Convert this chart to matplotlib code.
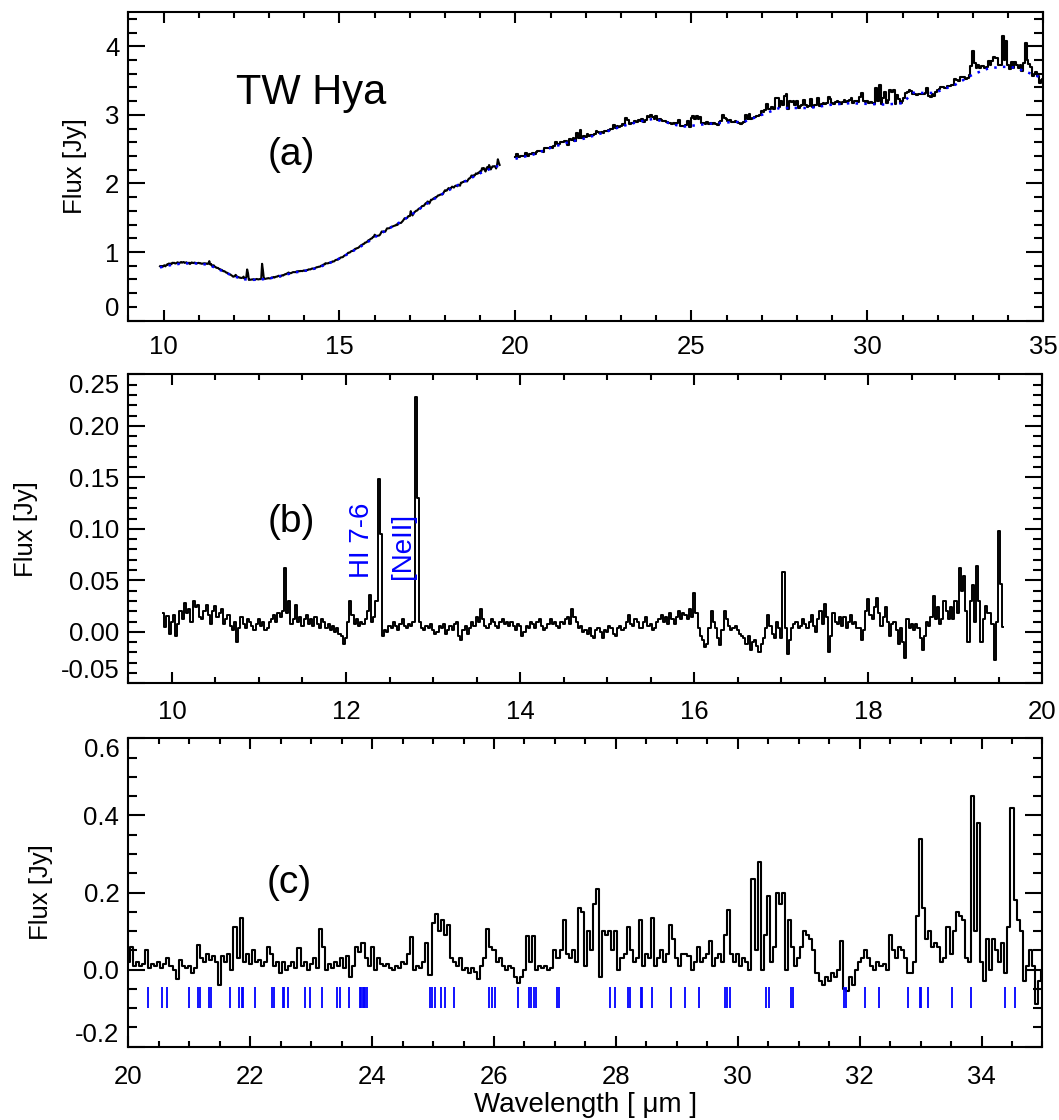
import numpy as np
import matplotlib
matplotlib.use("Agg")
import matplotlib.pyplot as plt
from matplotlib.ticker import MultipleLocator

plt.rcParams["font.family"] = ["Liberation Sans", "DejaVu Sans"]
plt.rcParams["axes.unicode_minus"] = False

# Short-wavelength part: continuum-subtracted flux [Jy], 0.025 um sampling from 9.900 um
resid_sh = [
    0.018, 0.005, 0.015, -0.002, 0.010, 0.016, -0.004, 0.008, 0.020, 0.012,
    0.028, 0.018, 0.022, 0.010, 0.030, 0.024, 0.026, 0.014, 0.012, 0.020,
    0.026, 0.016, 0.008, 0.020, 0.025, 0.014, 0.018, 0.022, 0.008, 0.012,
    0.016, 0.006, 0.002, 0.010, -0.010, 0.004, 0.014, 0.008, 0.004, 0.012,
    # 10.9 um
    0.010, 0.006, 0.002, 0.008, 0.012, 0.006, 0.010, 0.002, 0.004, 0.010,
    0.012, 0.016, 0.010, 0.018, 0.014, 0.020, 0.062, 0.018, 0.030, 0.008,
    0.012, 0.026, 0.010, 0.014, 0.006, 0.012, 0.016, 0.008, 0.012, 0.006,
    0.014, 0.008, 0.004, 0.012, 0.010, 0.004, 0.008, 0.002, 0.006, 0.000,
    # 11.9 um
    0.004, -0.002, -0.004, -0.012, -0.006, 0.010, 0.030, 0.016, 0.008, 0.012,
    0.006, 0.010, 0.008, 0.012, 0.020, 0.036, 0.010, 0.014, 0.030, 0.148,
    0.095, -0.004, 0.002, 0.000, 0.006, 0.004, 0.010, 0.006, 0.002, 0.008,
    0.012, 0.006, 0.004, 0.008, 0.006, 0.010, 0.228, 0.130, 0.010, 0.004,
    # 12.9 um
    0.002, 0.006, 0.004, 0.008, 0.002, -0.002, 0.000, 0.006, 0.004, 0.008,
    -0.002, 0.002, 0.006, 0.002, 0.008, 0.010, -0.004, -0.008, 0.002, 0.006,
    -0.002, 0.004, 0.010, 0.006, 0.014, 0.010, 0.022, 0.012, 0.006, 0.004,
    0.008, 0.012, 0.010, 0.006, 0.004, 0.010, 0.012, 0.008, 0.010, 0.006,
    # 13.9 um
    0.010, 0.006, 0.002, 0.008, 0.006, -0.004, 0.000, 0.006, 0.004, 0.010,
    0.008, 0.004, 0.010, 0.012, 0.006, 0.002, 0.004, 0.008, 0.012, 0.008,
    0.010, 0.006, 0.004, 0.010, 0.008, 0.012, 0.014, 0.008, 0.022, 0.014,
    0.010, 0.004, 0.006, 0.000, 0.002, -0.002, 0.004, -0.004, -0.006, 0.002,
    # 14.9 um
    0.004, 0.000, -0.006, 0.002, 0.000, 0.006, 0.004, -0.002, -0.004, 0.004,
    0.006, 0.002, 0.004, 0.010, 0.016, 0.008, 0.006, 0.012, 0.010, 0.004,
    0.004, 0.010, 0.014, 0.006, 0.008, 0.002, 0.004, 0.010, 0.012, 0.016,
    0.010, 0.014, 0.008, 0.018, 0.012, 0.008, 0.014, 0.020, 0.012, 0.018,
    # 15.9 um
    0.016, 0.012, 0.022, 0.014, 0.038, 0.018, 0.004, -0.004, -0.008, -0.015,
    -0.012, 0.004, 0.020, 0.010, 0.004, -0.006, -0.013, 0.002, 0.020, 0.012,
    0.006, 0.002, 0.004, 0.006, 0.002, -0.002, -0.004, -0.006, -0.012, -0.004,
    -0.018, -0.010, -0.008, -0.014, -0.020, -0.012, -0.006, 0.004, 0.016, 0.006,
    # 16.9 um
    -0.002, -0.006, 0.010, 0.004, -0.006, 0.058, 0.004, -0.022, -0.008, 0.004,
    0.008, 0.010, 0.004, 0.006, 0.012, 0.008, 0.004, 0.010, 0.016, 0.006,
    0.000, 0.012, 0.020, 0.008, 0.027, 0.014, -0.020, -0.004, 0.018, 0.010,
    0.008, 0.014, 0.006, 0.014, 0.004, 0.010, 0.016, 0.008, 0.010, 0.004,
    # 17.9 um
    0.004, -0.008, 0.002, 0.020, 0.032, 0.016, 0.012, 0.024, 0.033, 0.018,
    0.006, 0.014, 0.024, 0.010, -0.004, 0.008, 0.010, 0.002, -0.012, 0.004,
    -0.010, -0.025, 0.012, 0.004, 0.008, 0.002, 0.008, 0.004, -0.006, -0.018,
    -0.004, 0.010, 0.006, 0.014, 0.035, 0.012, 0.024, 0.008, 0.012, 0.030,
    # 18.9 um
    0.020, 0.012, 0.024, 0.012, 0.030, 0.018, 0.062, 0.040, 0.054, 0.020,
    -0.010, 0.030, 0.045, 0.010, 0.064, 0.030, -0.010, 0.012, 0.025, 0.018,
    0.018, 0.008, -0.027, 0.010, 0.098, 0.046, 0.005,
]

# continuum fit on the same grid [Jy]
cont_sh = [
    0.775, 0.778, 0.782, 0.786, 0.789, 0.792, 0.795, 0.798, 0.800, 0.803,
    0.805, 0.808, 0.810, 0.812, 0.814, 0.816, 0.818, 0.820, 0.822, 0.824,
    0.825, 0.827, 0.828, 0.829, 0.830, 0.831, 0.832, 0.833, 0.834, 0.835,
    0.835, 0.835, 0.835, 0.835, 0.835, 0.835, 0.835, 0.835, 0.835, 0.835,
    0.834, 0.834, 0.833, 0.832, 0.831, 0.830, 0.829, 0.828, 0.826, 0.825,
    0.823, 0.821, 0.819, 0.816, 0.813, 0.810, 0.806, 0.802, 0.797, 0.792,
    0.787, 0.782, 0.776, 0.770, 0.764, 0.758, 0.752, 0.746, 0.740, 0.734,
    0.728, 0.722, 0.716, 0.710, 0.704, 0.698, 0.692, 0.686, 0.680, 0.675,
    0.669, 0.664, 0.658, 0.653, 0.648, 0.643, 0.638, 0.634, 0.629, 0.625,
    0.621, 0.618, 0.614, 0.611, 0.608, 0.606, 0.603, 0.602, 0.600, 0.599,
    0.598, 0.597, 0.596, 0.596, 0.595, 0.595, 0.595, 0.595, 0.595, 0.596,
    0.596, 0.597, 0.597, 0.598, 0.599, 0.600, 0.601, 0.603, 0.604, 0.606,
    0.607, 0.609, 0.611, 0.613, 0.615, 0.618, 0.620, 0.623, 0.625, 0.628,
    0.630, 0.633, 0.636, 0.639, 0.642, 0.645, 0.648, 0.651, 0.654, 0.657,
    0.660, 0.664, 0.667, 0.670, 0.673, 0.677, 0.680, 0.683, 0.686, 0.689,
    0.692, 0.695, 0.698, 0.701, 0.703, 0.706, 0.708, 0.711, 0.713, 0.714,
    0.715, 0.718, 0.720, 0.723, 0.725, 0.728, 0.730, 0.733, 0.735, 0.738,
    0.740, 0.743, 0.745, 0.749, 0.752, 0.756, 0.760, 0.764, 0.767, 0.771,
    0.775, 0.780, 0.785, 0.790, 0.795, 0.800, 0.805, 0.810, 0.815, 0.821,
    0.826, 0.832, 0.837, 0.843, 0.848, 0.854, 0.860, 0.866, 0.871, 0.877,
    0.882, 0.888, 0.894, 0.900, 0.905, 0.912, 0.919, 0.926, 0.932, 0.939,
    0.946, 0.953, 0.960, 0.968, 0.975, 0.983, 0.990, 0.998, 1.005, 1.013,
    1.020, 1.028, 1.035, 1.043, 1.050, 1.058, 1.065, 1.073, 1.080, 1.088,
    1.096, 1.104, 1.112, 1.120, 1.128, 1.137, 1.145, 1.154, 1.162, 1.171,
    1.180, 1.189, 1.198, 1.207, 1.215, 1.223, 1.231, 1.240, 1.248, 1.256,
    1.264, 1.272, 1.280, 1.288, 1.295, 1.303, 1.310, 1.318, 1.325, 1.333,
    1.340, 1.348, 1.355, 1.363, 1.370, 1.378, 1.385, 1.393, 1.400, 1.408,
    1.415, 1.423, 1.430, 1.438, 1.445, 1.453, 1.460, 1.469, 1.477, 1.486,
    1.495, 1.504, 1.512, 1.521, 1.530, 1.539, 1.547, 1.556, 1.565, 1.574,
    1.582, 1.591, 1.600, 1.610, 1.619, 1.629, 1.638, 1.647, 1.656, 1.666,
    1.675, 1.684, 1.692, 1.701, 1.710, 1.719, 1.727, 1.736, 1.745, 1.753,
    1.761, 1.770, 1.778, 1.786, 1.794, 1.802, 1.810, 1.818, 1.825, 1.833,
    1.840, 1.848, 1.855, 1.863, 1.870, 1.878, 1.885, 1.893, 1.900, 1.908,
    1.915, 1.923, 1.930, 1.937, 1.944, 1.951, 1.958, 1.965, 1.971, 1.978,
    1.985, 1.992, 1.999, 2.006, 2.013, 2.020, 2.026, 2.033, 2.040, 2.047,
    2.054, 2.061, 2.068, 2.075, 2.081, 2.088, 2.095, 2.102, 2.109, 2.116,
    2.123, 2.130, 2.136, 2.143, 2.150, 2.156, 2.161, 2.167, 2.172, 2.178,
    2.184, 2.190, 2.195, 2.200, 2.205, 2.210, 2.215, 2.220, 2.225, 2.230,
    2.235, 2.240, 2.245, 2.250, 2.255, 2.260, 2.265,
]

# Long-wavelength part: continuum-subtracted flux [Jy], 0.05 um sampling from 20.00 um
resid_lh = [
    0.02, 0.06, 0.01, 0.02, 0.01, 0.015, 0.05, 0.005, 0.015, 0.01,
    0.02, 0.005, 0.015, 0.03, 0.01, 0.0, -0.025, 0.025, 0.01, 0.005,
    0.01, -0.01, 0.005, 0.065, 0.03, 0.02, 0.04, 0.025, 0.035, 0.02,
    -0.04, 0.035, 0.02, 0.04, 0.0, 0.11, 0.03, 0.135, 0.02, 0.04,
    0.015, 0.05, 0.02, 0.025, 0.01, 0.02, 0.06, 0.04, 0.01, 0.02,
    -0.01, 0.02, 0.0, 0.01, 0.02, 0.005, 0.055, 0.01, 0.02, 0.0,
    0.015, 0.03, 0.005, 0.105, 0.06, 0.0, 0.015, 0.005, 0.02, 0.01,
    0.03, 0.005, 0.035, -0.02, 0.01, 0.06, 0.045, 0.07, 0.03, 0.01,
    0.06, 0.0, 0.03, 0.015, 0.01, 0.015, 0.005, 0.0, 0.01, 0.005,
    0.02, 0.015, 0.04, 0.085, 0.0, 0.01, 0.005, 0.02, 0.07, -0.015,
    0.12, 0.145, 0.10, 0.13, 0.09, 0.115, 0.03, 0.02, 0.01, 0.03,
    0.0, 0.005, -0.01, 0.005, -0.005, -0.025, 0.01, 0.03, 0.105, 0.06,
    0.05, 0.02, 0.03, 0.01, 0.0, 0.01, 0.005, -0.02, -0.035, -0.02,
    0.0, 0.087, 0.02, 0.087, 0.0, 0.01, 0.005, 0.01, 0.0, 0.005,
    0.05, 0.03, 0.05, 0.13, 0.04, 0.03, 0.05, 0.02, 0.16, 0.15,
    0.01, 0.10, 0.05, 0.17, 0.21, -0.02, 0.10, 0.09, 0.10, 0.05,
    0.10, 0.0, 0.03, 0.04, 0.11, 0.05, 0.02, 0.03, 0.13, 0.01,
    0.04, 0.03, 0.135, 0.01, 0.03, 0.05, 0.02, 0.04, 0.115, 0.08,
    0.03, 0.01, 0.04, 0.04, 0.035, 0.0, 0.02, 0.06, 0.02, 0.03,
    0.04, 0.075, 0.01, 0.03, 0.04, 0.02, 0.09, 0.155, 0.04, 0.02,
    0.04, 0.01, 0.03, 0.02, 0.0, 0.235, 0.05, 0.28, 0.0, 0.09,
    0.19, 0.02, 0.06, 0.20, 0.17, 0.20, 0.0, 0.13, 0.06, 0.01,
    0.03, 0.06, 0.10, 0.09, 0.08, 0.05, -0.01, -0.03, -0.04, -0.02,
    -0.03, -0.01, -0.02, 0.0, 0.075, -0.05, -0.055, -0.02, -0.04, 0.0,
    0.02, 0.03, 0.05, 0.03, 0.01, 0.0, 0.02, 0.01, 0.015, 0.0,
    0.09, 0.05, 0.03, 0.06, 0.05, 0.03, -0.01, -0.01, 0.02, 0.14,
    0.34, 0.16, 0.08, 0.10, 0.06, 0.07, 0.06, 0.02, 0.03, 0.11,
    0.04, 0.10, 0.15, 0.14, 0.13, 0.03, 0.02, 0.45, 0.10, 0.38,
    0.02, -0.03, 0.08, 0.0, 0.08, 0.05, 0.02, 0.07, -0.01, 0.11,
    0.42, 0.18, 0.13, 0.10, -0.03, 0.01, 0.05, 0.01, -0.09, -0.03,
    0.0,
]

cont_lh = [
    2.360, 2.366, 2.372, 2.378, 2.384, 2.390, 2.396, 2.402, 2.408, 2.414,
    2.420, 2.430, 2.440, 2.450, 2.460, 2.470, 2.480, 2.490, 2.500, 2.510,
    2.520, 2.528, 2.536, 2.544, 2.552, 2.560, 2.568, 2.576, 2.584, 2.592,
    2.600, 2.606, 2.612, 2.618, 2.624, 2.630, 2.636, 2.642, 2.648, 2.654,
    2.660, 2.668, 2.676, 2.684, 2.692, 2.700, 2.708, 2.716, 2.724, 2.732,
    2.740, 2.749, 2.758, 2.767, 2.776, 2.785, 2.794, 2.803, 2.812, 2.821,
    2.830, 2.837, 2.844, 2.851, 2.858, 2.865, 2.872, 2.879, 2.886, 2.893,
    2.900, 2.905, 2.910, 2.915, 2.920, 2.925, 2.930, 2.935, 2.940, 2.935,
    2.930, 2.923, 2.916, 2.909, 2.902, 2.895, 2.888, 2.881, 2.874, 2.867,
    2.860, 2.853, 2.846, 2.840, 2.835, 2.832, 2.830, 2.832, 2.835, 2.838,
    2.840, 2.843, 2.846, 2.849, 2.852, 2.855, 2.858, 2.861, 2.864, 2.867,
    2.870, 2.872, 2.874, 2.876, 2.878, 2.880, 2.882, 2.884, 2.886, 2.888,
    2.890, 2.891, 2.892, 2.893, 2.894, 2.895, 2.896, 2.897, 2.898, 2.899,
    2.900, 2.910, 2.920, 2.930, 2.940, 2.950, 2.960, 2.970, 2.980, 2.990,
    3.000, 3.010, 3.020, 3.030, 3.040, 3.050, 3.060, 3.070, 3.080, 3.090,
    3.100, 3.100, 3.100, 3.100, 3.100, 3.100, 3.100, 3.100, 3.100, 3.100,
    3.100, 3.100, 3.100, 3.100, 3.100, 3.100, 3.102, 3.104, 3.106, 3.108,
    3.110, 3.114, 3.118, 3.122, 3.126, 3.130, 3.134, 3.138, 3.142, 3.146,
    3.150, 3.152, 3.154, 3.156, 3.158, 3.160, 3.162, 3.164, 3.166, 3.168,
    3.170, 3.169, 3.168, 3.167, 3.166, 3.165, 3.164, 3.163, 3.162, 3.161,
    3.160, 3.159, 3.158, 3.157, 3.156, 3.155, 3.154, 3.153, 3.152, 3.151,
    3.150, 3.152, 3.154, 3.156, 3.158, 3.160, 3.162, 3.164, 3.166, 3.168,
    3.170, 3.190, 3.220, 3.250, 3.280, 3.300, 3.320, 3.330, 3.330, 3.330,
    3.330, 3.320, 3.320, 3.320, 3.320, 3.320, 3.320, 3.320, 3.320, 3.330,
    3.340, 3.350, 3.360, 3.370, 3.380, 3.390, 3.400, 3.410, 3.420, 3.430,
    3.440, 3.455, 3.470, 3.485, 3.500, 3.515, 3.530, 3.545, 3.560, 3.575,
    3.590, 3.600, 3.610, 3.620, 3.630, 3.640, 3.650, 3.660, 3.670, 3.675,
    3.680, 3.685, 3.690, 3.690, 3.695, 3.700, 3.700, 3.700, 3.700, 3.700,
    3.700, 3.700, 3.695, 3.690, 3.685, 3.680, 3.670, 3.660, 3.650, 3.640,
    3.630, 3.620, 3.610, 3.600, 3.590, 3.580, 3.570, 3.560, 3.550, 3.540,
    3.530,
]

# water line positions [um] marked in panel (c)
water_lines = [
    20.32, 20.56, 20.64, 20.99, 21.14, 21.17, 21.32, 21.36, 21.66, 21.82,
    21.86, 21.88, 22.07, 22.36, 22.39, 22.53, 22.55, 22.62, 22.90, 22.98,
    23.18, 23.43, 23.47, 23.62, 23.80, 23.82, 23.85, 23.87, 23.89, 23.92,
    24.95, 24.99, 25.04, 25.13, 25.20, 25.34, 25.91, 25.96, 26.02, 26.40,
    26.57, 26.61, 26.65, 26.69, 27.03, 27.07, 27.90, 27.98, 28.20, 28.23,
    28.41, 28.43, 28.59, 28.91, 29.14, 29.36, 29.79, 29.83, 29.87, 30.47,
    30.52, 30.87, 30.90, 31.75, 31.77, 32.08, 32.31, 32.80, 32.99, 33.01,
    33.12, 33.51, 33.83, 34.39, 34.55,
]

sh_start, sh_step = 9.900, 0.025
lh_start, lh_step = 20.00, 0.05

wave_sh = sh_start + sh_step * np.arange(len(resid_sh))
wave_lh = lh_start + lh_step * np.arange(len(resid_lh))
flux_sh = np.array(cont_sh) + np.array(resid_sh)
flux_lh = np.array(cont_lh) + np.array(resid_lh)

FS = 18.5


def style_axis(ax, xlim, xticks, ylim, yticks, ylabels, xminor, yminor, xpad):
    ax.set_xlim(*xlim)
    ax.set_ylim(*ylim)
    ax.set_xticks(xticks, [f"{t:g}" for t in xticks])
    ax.set_yticks(yticks, ylabels)
    ax.xaxis.set_minor_locator(MultipleLocator(xminor))
    ax.yaxis.set_minor_locator(MultipleLocator(yminor))
    ax.tick_params(which="both", direction="in", top=True, right=True,
                   width=1.5, labelsize=FS, color="black")
    ax.tick_params(axis="y", which="major", length=12.5, pad=6.5)
    ax.tick_params(axis="y", which="minor", length=6.5)
    ax.tick_params(axis="x", which="major", length=8, pad=xpad)
    ax.tick_params(axis="x", which="minor", length=4)
    for sp in ax.spines.values():
        sp.set_linewidth(1.5)
    # IDL nudges the end labels inside the box
    for tick, val in zip(ax.yaxis.get_major_ticks(), yticks):
        if np.isclose(val, ylim[0]):
            tick.label1.set_va("bottom")
        elif np.isclose(val, ylim[1]):
            tick.label1.set_va("top")
    ax.set_ylabel("Flux [Jy]", fontsize=FS)


fig = plt.figure(figsize=(10.59, 11.2), dpi=100)
ax_a = fig.add_axes([0.1212, 0.7137, 0.8640, 0.2756])
ax_b = fig.add_axes([0.1212, 0.3899, 0.8632, 0.2759])
ax_c = fig.add_axes([0.1212, 0.0654, 0.8632, 0.2754])

# (a) full spectrum with continuum
ax_a.plot(wave_sh, flux_sh, color="black", lw=1.5)
ax_a.plot(wave_lh, flux_lh, color="black", lw=1.5, drawstyle="steps-mid")
ax_a.plot(wave_sh, cont_sh, color="blue", lw=1.8, ls=(0, (1, 2.5)), zorder=3)
ax_a.plot(wave_lh, cont_lh, color="blue", lw=1.8, ls=(0, (1, 2.5)), zorder=3)
style_axis(ax_a, (9, 35), [10, 15, 20, 25, 30, 35], (0, 4.5),
           [0, 1, 2, 3, 4], ["0", "1", "2", "3", "4"], 1, 0.2, 10)
ax_a.yaxis.set_label_coords(-0.0455, 0.5)
ax_a.text(14.19, 3.32, "TW Hya", fontsize=30, ha="center", va="center")
ax_a.text(13.64, 2.42, "(a)", fontsize=28, ha="center", va="center")

# (b) residuals, short wavelengths
ax_b.plot(wave_sh, resid_sh, color="black", lw=1.4, drawstyle="steps-mid")
style_axis(ax_b, (9.5, 20), [10, 12, 14, 16, 18, 20], (-0.05, 0.25),
           [-0.05, 0.0, 0.05, 0.10, 0.15, 0.20, 0.25],
           ["-0.05", "0.00", "0.05", "0.10", "0.15", "0.20", "0.25"],
           0.5, 0.01, 12)
ax_b.yaxis.set_label_coords(-0.099, 0.5)
ax_b.text(11.37, 0.107, "(b)", fontsize=28, ha="center", va="center")
ax_b.text(12.18, 0.089, "HI 7-6", fontsize=20, color="blue", rotation=90,
          ha="center", va="center")
ax_b.text(12.65, 0.083, "[NeII]", fontsize=20, color="blue", rotation=90,
          ha="center", va="center")

# (c) residuals, long wavelengths, with water line positions
ax_c.plot(wave_lh, resid_lh, color="black", lw=1.5, drawstyle="steps-mid")
ax_c.vlines(water_lines, -0.10, -0.045, color="blue", lw=1.3)
style_axis(ax_c, (20, 35), [20, 22, 24, 26, 28, 30, 32, 34], (-0.2, 0.6),
           [-0.2, 0.0, 0.2, 0.4, 0.6], ["-0.2", "0.0", "0.2", "0.4", "0.6"],
           0.5, 0.05, 13)
ax_c.yaxis.set_label_coords(-0.082, 0.5)
ax_c.text(22.64, 0.226, "(c)", fontsize=28, ha="center", va="center")
ax_c.set_xlabel("Wavelength [ \u03bcm ]", fontsize=20, labelpad=2)

fig.savefig("out.png", dpi=100)
